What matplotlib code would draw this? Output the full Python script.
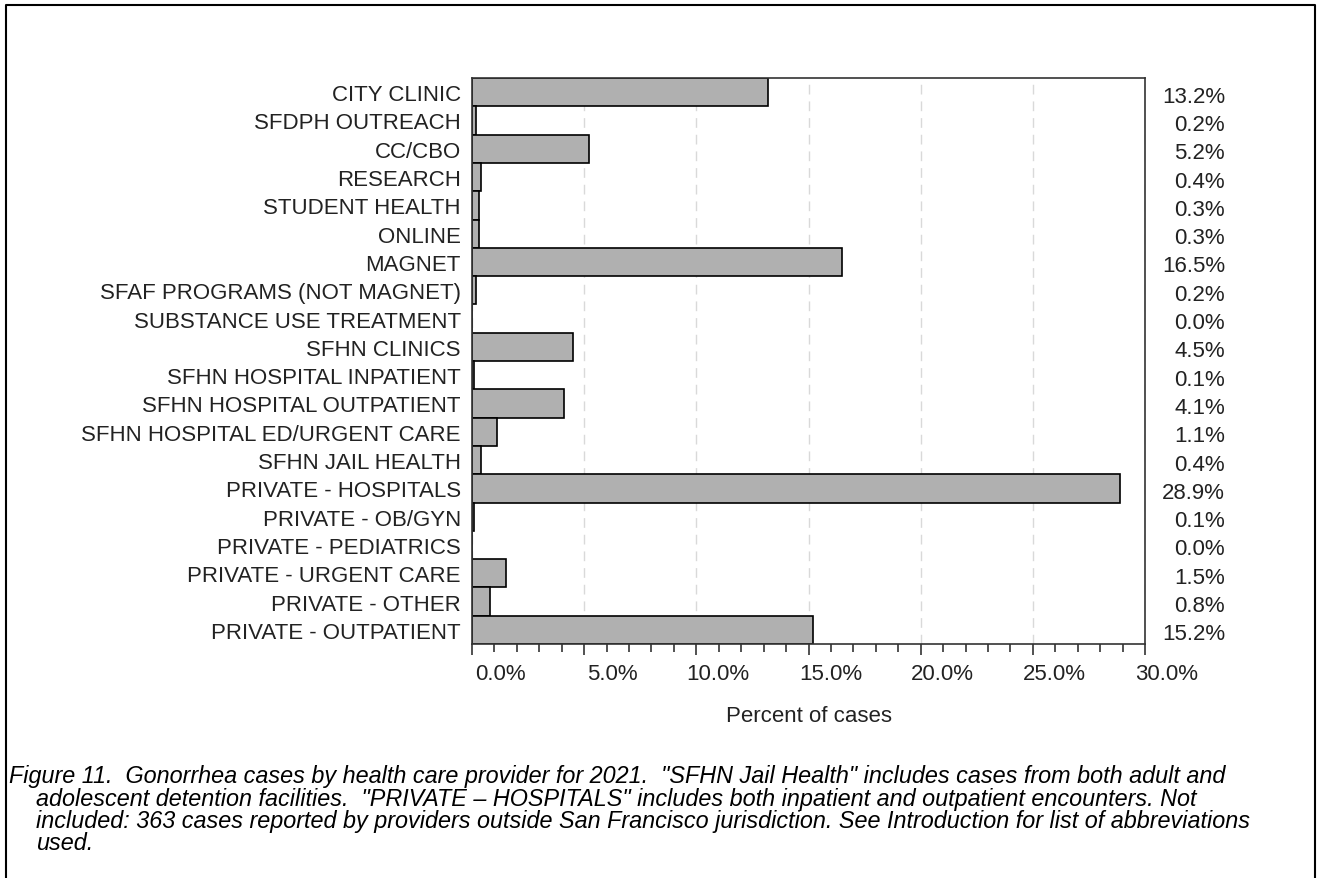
import numpy as np
import matplotlib
matplotlib.use("Agg")
import matplotlib.pyplot as plt
import matplotlib.transforms as mtransforms
from matplotlib.ticker import MultipleLocator
from matplotlib.lines import Line2D

plt.rcParams['font.family'] = ['Liberation Sans', 'DejaVu Sans']

categories = [
    "CITY CLINIC", "SFDPH OUTREACH", "CC/CBO", "RESEARCH", "STUDENT HEALTH",
    "ONLINE", "MAGNET", "SFAF PROGRAMS (NOT MAGNET)", "SUBSTANCE USE TREATMENT",
    "SFHN CLINICS", "SFHN HOSPITAL INPATIENT", "SFHN HOSPITAL OUTPATIENT",
    "SFHN HOSPITAL ED/URGENT CARE", "SFHN JAIL HEALTH", "PRIVATE - HOSPITALS",
    "PRIVATE - OB/GYN", "PRIVATE - PEDIATRICS", "PRIVATE - URGENT CARE",
    "PRIVATE - OTHER", "PRIVATE - OUTPATIENT",
]
values = [13.2, 0.2, 5.2, 0.4, 0.3, 0.3, 16.5, 0.2, 0.0, 4.5,
          0.1, 4.1, 1.1, 0.4, 28.9, 0.1, 0.0, 1.5, 0.8, 15.2]
value_labels = ["13.2%", "0.2%", "5.2%", "0.4%", "0.3%", "0.3%", "16.5%", "0.2%",
                "0.0%", "4.5%", "0.1%", "4.1%", "1.1%", "0.4%", "28.9%", "0.1%",
                "0.0%", "1.5%", "0.8%", "15.2%"]
x_ticks = [0, 5, 10, 15, 20, 25, 30]
x_tick_labels = ["0.0%", "5.0%", "10.0%", "15.0%", "20.0%", "25.0%", "30.0%"]
x_label = "Percent of cases"
caption_lines = [
    'Figure 11.  Gonorrhea cases by health care provider for 2021.  "SFHN Jail Health" includes cases from both adult and',
    'adolescent detention facilities.  "PRIVATE \u2013 HOSPITALS" includes both inpatient and outpatient encounters. Not',
    'included: 363 cases reported by providers outside San Francisco jurisdiction. See Introduction for list of abbreviations',
    'used.',
]

W, H = 1317, 879
fig = plt.figure(figsize=(W / 100, H / 100), dpi=100)
fig.patch.set_facecolor("white")

ax = fig.add_axes([472 / W, 1 - 645 / H, 673 / W, 566 / H])
txt_color = "#222222"
fs = 16

y = np.arange(len(categories))
ax.barh(y, values, height=1.0, color="#b0b0b0", edgecolor="black",
        linewidth=1.2, zorder=2)
ax.set_ylim(len(categories) - 0.5, -0.5)
ax.set_xlim(0, 30)

ax.set_yticks(y)
ax.set_yticklabels(categories, fontsize=fs, color=txt_color)
ax.tick_params(axis="y", length=0, pad=8)

ax.set_xticks(x_ticks)
ax.set_xticklabels([])
ax.xaxis.set_minor_locator(MultipleLocator(1))
ax.tick_params(axis="x", which="major", length=8, width=1.2, color="#333333")
ax.tick_params(axis="x", which="minor", length=6, width=1.2, color="#333333")

# tick labels: SAS places them right-aligned a bit to the right of each tick
tl_trans = mtransforms.blended_transform_factory(ax.transData, ax.transAxes) + \
    mtransforms.ScaledTranslation(53.5 / 100, -35 / 100, fig.dpi_scale_trans)
for xv, lab in zip(x_ticks, x_tick_labels):
    ax.text(xv, 0, lab, transform=tl_trans, ha="right", va="baseline",
            fontsize=fs, color=txt_color, clip_on=False)

ax.xaxis.grid(True, which="major", color="#d9d9d9", linestyle=(0, (7, 5)), linewidth=1.0)
ax.set_axisbelow(True)
for sp in ax.spines.values():
    sp.set_color("#333333")
    sp.set_linewidth(1.2)

trans = mtransforms.blended_transform_factory(ax.transAxes, ax.transData)
xr = (1225 - 472) / 673
for i, lab in enumerate(value_labels):
    ax.text(xr, i + 0.14, lab, transform=trans, ha="right", va="center",
            fontsize=fs, color=txt_color)

fig.text(808.5 / W, 1 - 722 / H, x_label, ha="center", va="baseline",
         fontsize=fs, color=txt_color)

# outer frame
fig.add_artist(Line2D([6 / W, 6 / W, 1315 / W, 1315 / W], [0, 1 - 6 / H, 1 - 6 / H, 0],
                      transform=fig.transFigure, color="black", linewidth=1.5))

# caption
cap_x0, cap_x1 = 9, 36
cap_fs = 16.8
baselines = [783, 806, 828, 850]
for k, (line, yb) in enumerate(zip(caption_lines, baselines)):
    xs = cap_x0 if k == 0 else cap_x1
    fig.text(xs / W, 1 - yb / H, line, ha="left", va="baseline", fontsize=cap_fs,
             style="italic", color="black")

fig.savefig("out.png", dpi=100)
